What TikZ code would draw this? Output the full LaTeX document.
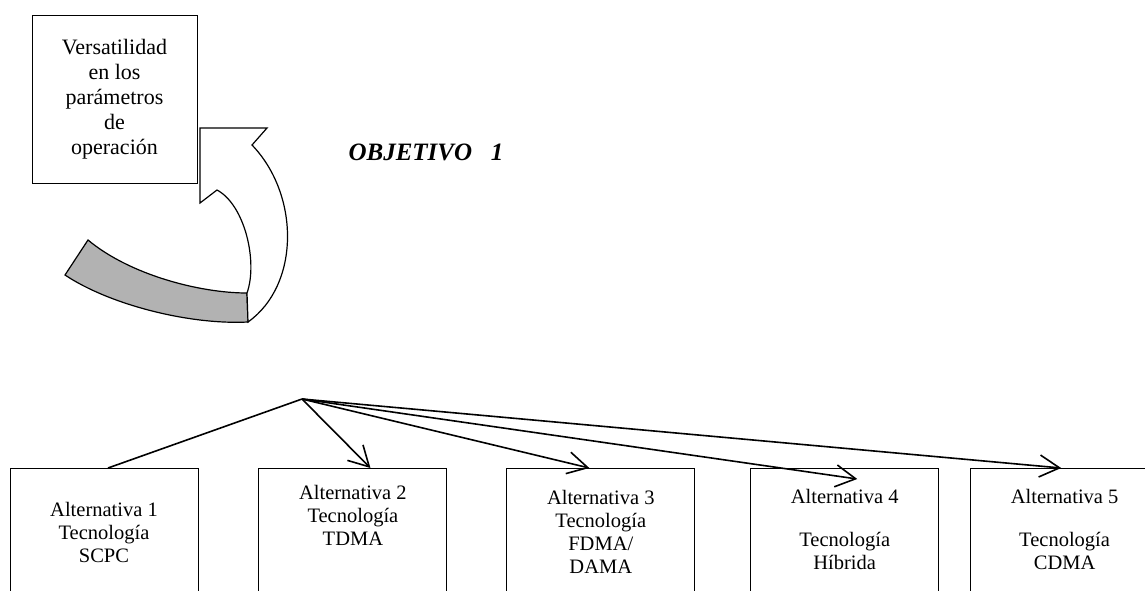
\documentclass[tikz,border=0pt]{standalone}
\usepackage{fontspec}
\setmainfont{Liberation Serif}
\usepackage{tikz}
\usetikzlibrary{arrows.meta, positioning}
\tikzset{
    goalbox/.style={rectangle, draw=black, line width=0.9pt, minimum width=165pt, minimum height=168pt, align=center, font=\fontsize{22}{25}\selectfont},
    altbox/.style={rectangle, draw=black, line width=0.9pt, minimum width=188pt, minimum height=150pt, anchor=north},
    alttext/.style={align=center, inner sep=0pt, font=\fontsize{20.5}{23}\selectfont},
    link/.style={line width=1.6pt},
    arrow/.style={line width=1.6pt, -{Straight Barb[length=20pt, width=22pt]}}
}
\begin{document}
\begin{tikzpicture}[x=1pt, y=-1pt]
    \useasboundingbox (0,0) rectangle (1145,590);
    \clip (0,0) rectangle (1145,590);

    \node (goal) [goalbox] at (114.5,99) {Versatilidad\\en los\\parámetros\\de\\operación};
    \node (obj) [anchor=base west, font=\fontsize{25}{28}\selectfont\bfseries\itshape] at (345,160) {OBJETIVO\hspace{0.75em}1};

    % curved arrow back to the box
    \filldraw [fill=black!30, line width=1.2pt] (65,275) -- (88,240)
        .. controls (130,275) and (200,293) .. (247,293) -- (248,322)
        .. controls (190,325) and (110,305) .. (65,275) -- cycle;
    \draw [fill=white, line width=1.2pt] (247,293)
        .. controls (258,262) and (245,205) .. (217,190) -- (200,203) -- (200,128)
        -- (267,128) -- (252,145)
        .. controls (300,195) and (300,285) .. (248,322) -- cycle;

    \coordinate (hub) at (302,399);

    \node (alt1) [altbox] at (104,468) {};
    \node (alt2) [altbox, right=60pt of alt1] {};
    \node (alt3) [altbox, right=59pt of alt2] {};
    \node (alt4) [altbox, right=55pt of alt3] {};
    \node (alt5) [altbox, right=31pt of alt4] {};

    \node (alt1txt) [alttext, below=34pt of alt1.north] {Alternativa 1\\Tecnología\\SCPC};
    \node (alt2txt) [alttext, below=17pt of alt2.north] {Alternativa 2\\Tecnología\\TDMA};
    \node (alt3txt) [alttext, below=22pt of alt3.north] {Alternativa 3\\Tecnología\\FDMA/\\DAMA};
    \node (alt4txt) [alttext, below=21pt of alt4.north] {Alternativa 4\\[20pt]Tecnología\\Híbrida};
    \node (alt5txt) [alttext, below=21pt of alt5.north] {Alternativa 5\\[20pt]Tecnología\\CDMA};

    \draw [link] (hub) -- ([xshift=4pt]alt1.north);
    \draw [arrow] (hub) -- ([xshift=112pt]alt2.north west);
    \draw [arrow] (hub) -- ([xshift=83pt]alt3.north west);
    \draw [arrow] (hub) -- ([xshift=107pt, yshift=-11pt]alt4.north west);
    \draw [arrow] (hub) -- ([xshift=91pt]alt5.north west);
\end{tikzpicture}
\end{document}
